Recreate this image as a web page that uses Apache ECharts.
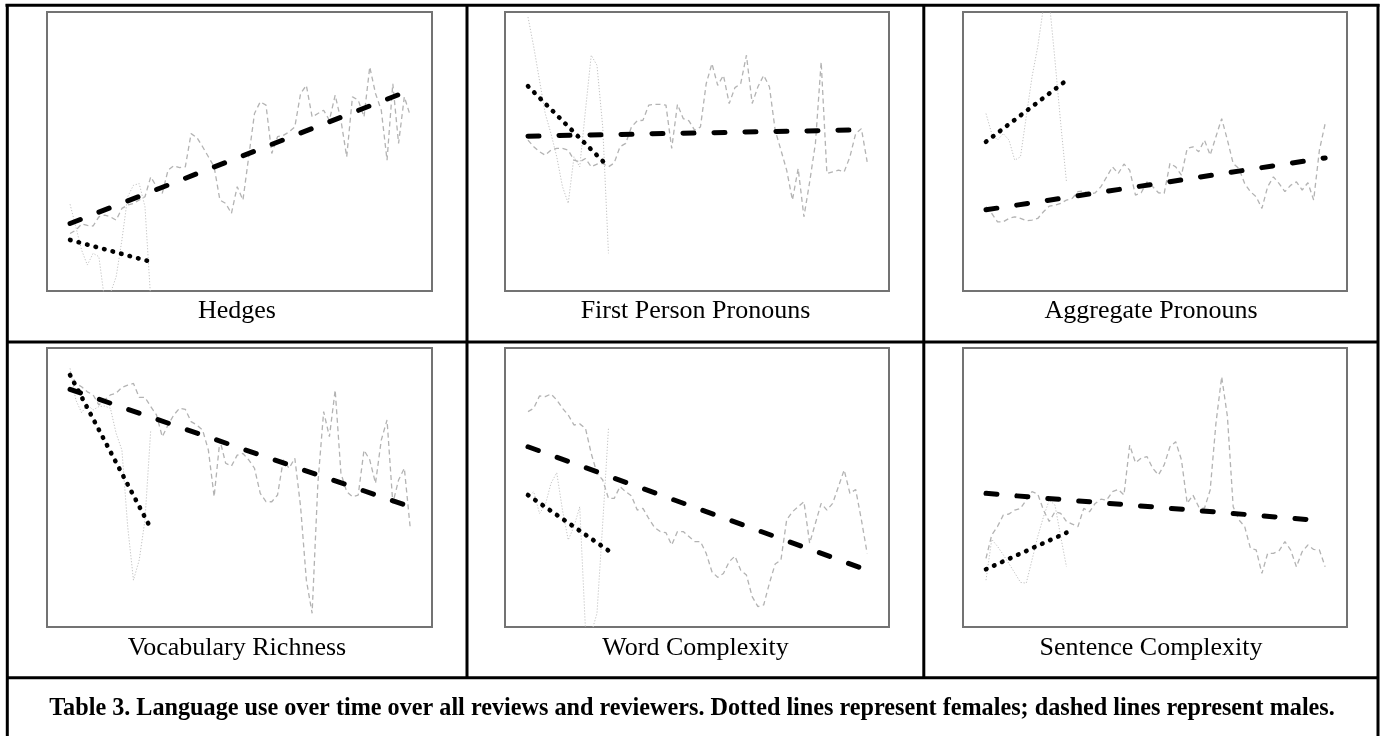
<!DOCTYPE html>
<html><head><meta charset="utf-8">
<script src="https://cdn.jsdelivr.net/npm/echarts@6/dist/echarts.min.js"></script>
<style>html,body{margin:0;padding:0;background:#fff}#c{width:1384px;height:736px}</style>
</head><body><div id="c"></div>
<script>
// ---- data (arbitrary units, 0..100 frame scale) ----
const panelTitles = ['Hedges','First Person Pronouns','Aggregate Pronouns','Vocabulary Richness','Word Complexity','Sentence Complexity'];
const captionText = 'Table 3. Language use over time over all reviews and reviewers. Dotted lines represent females; dashed lines represent males.';

const hedgesMale = [20.6,21.8,24.0,23.5,23.3,26.6,27.2,26.6,25.4,29.6,30.8,31.4,32.6,33.8,40.9,37.4,35.0,43.3,44.9,44.2,44.5,56.4,55.0,51.7,48.1,44.5,32.6,31.4,27.8,37.4,32.6,48.1,63.6,67.8,66.6,49.3,55.3,55.8,57.0,58.8,70.8,73.7,62.4,63.6,64.8,61.2,70.2,61.2,48.1,69.6,68.4,62.4,80.3,70.8,64.8,46.9,74.3,52.9,69.6,63.0];
const hedgesFemale = [31.1,23.0,14.7,9.3,13.5,12.3,-3.2,-0.8,5.1,18.3,33.8,37.9,38.5,30.2,-3.2];
const hedgesMaleTrend = [24.2,72.0];
const hedgesFemaleTrend = [18.3,10.5];

const firstMale = [54.1,51.7,49.9,48.7,50.5,51.1,51.1,50.5,46.9,46.3,47.5,44.5,45.5,45.7,44.5,45.9,51.7,52.9,58.8,61.0,61.2,66.6,66.9,66.9,66.6,51.1,66.9,61.8,61.0,57.6,58.8,74.3,81.5,73.7,77.3,67.2,72.9,74.3,84.5,67.2,73.2,77.3,73.2,57.6,50.5,43.3,32.6,43.9,26.6,39.1,52.9,82.1,42.1,42.7,43.3,42.7,48.1,56.4,58.2,46.3];
const firstFemale = [98.2,87.5,75.5,63.6,56.4,48.1,37.4,31.4,48.1,44.5,64.8,84.5,80.9,58.8,13.5];
const firstMaleTrend = [55.5,57.8];
const firstFemaleTrend = [73.4,44.5];

const aggMale = [30.2,27.8,24.8,24.8,26.0,26.6,26.0,25.2,25.4,26.0,28.4,30.4,30.8,31.4,32.6,33.2,35.6,35.9,34.7,35.2,37.4,40.9,44.5,42.1,45.5,43.3,34.4,35.2,39.1,37.4,35.2,35.0,45.7,44.5,41.5,51.1,51.7,49.9,54.1,48.7,55.3,61.8,54.1,45.7,43.9,38.5,35.6,33.8,29.6,37.4,40.9,38.5,35.6,37.9,39.1,36.2,38.8,32.6,50.5,60.0];
const aggFemale = [63.6,56.4,54.1,56.4,54.1,46.9,48.1,62.4,76.7,87.5,101.8,104.0,82.7,60.0,39.1];
const aggMaleTrend = [29.1,47.7];
const aggFemaleTrend = [53.5,75.5];

const vocabMale = [91.5,87.3,86.1,84.3,83.2,79.6,81.4,83.2,83.8,85.9,86.7,87.3,82.3,82.3,79.0,76.0,68.2,72.4,76.0,78.4,78.0,73.6,72.4,70.6,63.4,46.7,67.0,58.7,57.7,61.6,62.2,59.9,56.9,47.9,44.9,44.9,47.3,59.9,56.9,60.5,43.1,16.8,4.9,51.5,77.2,68.2,84.9,55.1,48.5,46.7,47.3,63.4,59.9,51.5,67.0,74.2,44.3,52.7,56.9,36.0];
const vocabFemale = [92.7,81.4,76.8,79.6,77.8,79.0,79.2,78.4,69.4,63.4,36.0,16.8,24.0,38.4,70.6];
const vocabMaleTrend = [85.2,43.1];
const vocabFemaleTrend = [90.3,35.4];

const wordMale = [77.2,78.4,82.8,82.6,83.5,81.4,78.4,76.0,72.4,72.8,71.2,62.2,55.1,52.7,46.1,46.1,50.3,48.5,47.0,41.9,42.5,38.9,35.7,34.2,33.8,29.4,34.2,34.2,32.4,30.6,30.6,26.4,19.8,17.8,19.2,23.4,25.4,20.4,18.6,10.9,7.3,7.9,15.7,22.6,24.0,38.4,41.3,43.1,44.9,30.0,37.2,44.3,41.9,44.3,50.3,56.3,47.9,49.3,38.4,26.4];
const wordFemale = [46.7,48.5,40.7,43.7,51.5,55.3,41.9,31.2,36.0,43.1,-1.1,-2.3,4.9,37.2,71.2];
const wordMaleTrend = [64.6,20.4];
const wordFemaleTrend = [47.3,27.4];

const sentMale = [24.6,33.0,36.0,40.1,40.5,41.9,42.5,45.5,48.5,47.7,41.9,37.8,41.3,40.7,37.8,36.9,36.0,42.5,41.3,44.3,45.8,45.5,48.5,49.3,47.3,65.2,58.9,60.5,61.1,56.9,54.5,58.1,64.6,66.4,59.9,44.3,47.3,43.1,42.5,49.1,73.0,89.7,75.4,43.1,38.4,36.0,28.2,27.6,19.2,26.4,26.4,27.4,30.6,27.6,21.6,27.0,29.4,27.8,27.6,21.6];
const sentFemale = [16.8,31.4,28.9,25.9,22.7,19.4,16.0,15.7,24.0,32.4,39.5,45.5,43.7,32.4,21.6];
const sentMaleTrend = [47.9,38.0];
const sentFemaleTrend = [20.7,33.8];

const maleSeries = [hedgesMale, firstMale, aggMale, vocabMale, wordMale, sentMale];
const femaleSeries = [hedgesFemale, firstFemale, aggFemale, vocabFemale, wordFemale, sentFemale];
const maleTrends = [hedgesMaleTrend, firstMaleTrend, aggMaleTrend, vocabMaleTrend, wordMaleTrend, sentMaleTrend];
const femaleTrends = [hedgesFemaleTrend, firstFemaleTrend, aggFemaleTrend, vocabFemaleTrend, wordFemaleTrend, sentFemaleTrend];

// ---- layout ----
const colLeft = [47, 505, 963];
const colWidth = [385, 384, 384];
const rowTop = [12, 348];
const frameH = 279;
const labelCx = [237, 695.5, 1151];
const labelCy = [311, 648];

const grids = [], xAxes = [], yAxes = [], series = [], graphics = [];
for (let p = 0; p < 6; p++) {
  const r = Math.floor(p / 3), c = p % 3;
  grids.push({left: colLeft[c], top: rowTop[r], width: colWidth[c], height: frameH,
    show: true, borderColor: '#737373', borderWidth: 2, backgroundColor: '#fff'});
  xAxes.push({type: 'value', gridIndex: p, min: -4, max: 62.8,
    axisLine: {show: false}, axisTick: {show: false}, axisLabel: {show: false}, splitLine: {show: false}});
  yAxes.push({type: 'value', gridIndex: p, min: 0, max: 100,
    axisLine: {show: false}, axisTick: {show: false}, axisLabel: {show: false}, splitLine: {show: false}});
  const m = maleSeries[p], f = femaleSeries[p];
  series.push({type: 'line', xAxisIndex: p, yAxisIndex: p, showSymbol: false, silent: true, z: 1,
    data: f.map((v, i) => [i, v]),
    lineStyle: {color: '#c2c2c2', width: 1, type: [1.2, 1.8]}});
  series.push({type: 'line', xAxisIndex: p, yAxisIndex: p, showSymbol: false, silent: true, z: 2,
    data: m.map((v, i) => [i, v]),
    lineStyle: {color: '#b3b3b3', width: 1.3, type: [5, 3.5]}});
  series.push({type: 'line', xAxisIndex: p, yAxisIndex: p, showSymbol: false, silent: true, z: 3,
    data: [[0, maleTrends[p][0]], [m.length - 1, maleTrends[p][1]]],
    lineStyle: {color: '#000', width: 5, type: [11, 20], cap: 'round'}});
  series.push({type: 'line', xAxisIndex: p, yAxisIndex: p, showSymbol: false, silent: true, z: 4,
    data: [[0, femaleTrends[p][0]], [f.length - 1, femaleTrends[p][1]]],
    lineStyle: {color: '#000', width: 4.6, type: [0.5, 8.3], cap: 'round'}});
  graphics.push({type: 'text', silent: true, style: {x: labelCx[c], y: labelCy[r], text: panelTitles[p],
    font: '26px "Liberation Serif", "Times New Roman", serif', fill: '#000',
    align: 'center', verticalAlign: 'middle', textAlign: 'center', textVerticalAlign: 'middle'}});
}
graphics.push({type: 'text', silent: true, style: {x: 692, y: 709, text: captionText,
  font: 'bold 24.2px "Liberation Serif", "Times New Roman", serif', fill: '#000',
  align: 'center', verticalAlign: 'middle', textAlign: 'center', textVerticalAlign: 'middle'}});

// table rules
const ln = (x1, y1, x2, y2) => ({type: 'line', silent: true, z: 10,
  shape: {x1, y1, x2, y2}, style: {stroke: '#000', lineWidth: 3}});
graphics.push(ln(5.5, 5.3, 1379.5, 5.3));
graphics.push(ln(7.3, 4, 7.3, 736));
graphics.push(ln(1378, 4, 1378, 736));
graphics.push(ln(467, 4, 467, 678));
graphics.push(ln(923.8, 4, 923.8, 678));
graphics.push(ln(6, 342, 1379, 342));
graphics.push(ln(6, 677.7, 1379, 677.7));

const chart = echarts.init(document.getElementById('c'), null, {renderer: 'canvas'});
chart.setOption({animation: false, backgroundColor: '#fff', grid: grids, xAxis: xAxes, yAxis: yAxes, series, graphic: graphics});
</script></body></html>
